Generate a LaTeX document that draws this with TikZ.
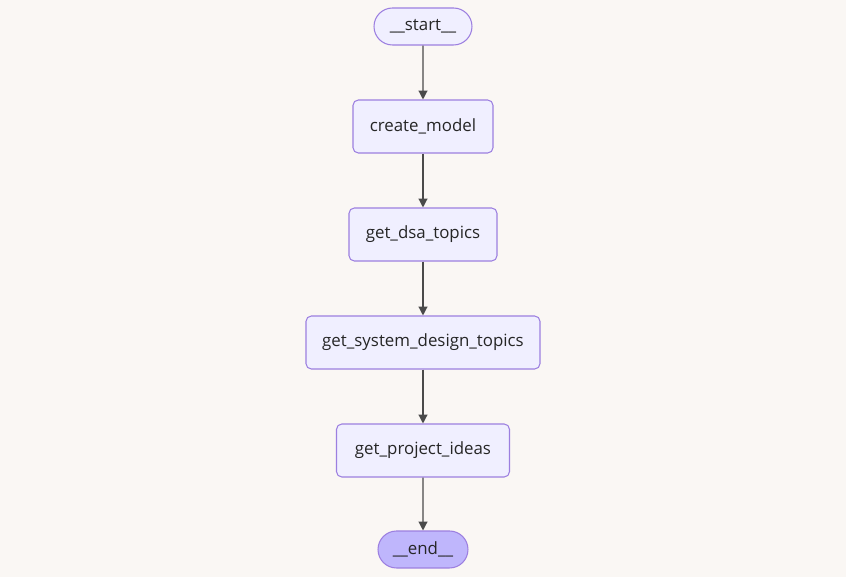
\documentclass[tikz,border=0pt]{standalone}
\usepackage{fontspec}
\setmainfont{Open Sans}
\usepackage{tikz}
\usetikzlibrary{shapes.misc, arrows.meta}

\definecolor{bgcol}{HTML}{FAF7F4}
\definecolor{nodefill}{HTML}{F0EFFF}
\definecolor{nodedraw}{HTML}{9C7FE0}
\definecolor{endfill}{HTML}{BFB6FC}
\definecolor{edgecol}{HTML}{4A4A4A}

\begin{document}
\begin{tikzpicture}[x=0.02cm, y=-0.02cm,
        stepnode/.style={rectangle, rounded corners=3pt, draw=nodedraw, fill=nodefill, line width=0.6pt,
            minimum height=1.06cm, inner sep=0pt, font=\fontsize{9.6pt}{11pt}\selectfont, text=black!85},
        term/.style={rounded rectangle, draw=nodedraw, fill=nodefill, line width=0.6pt,
            minimum height=0.74cm, inner sep=0pt, font=\fontsize{9.6pt}{11pt}\selectfont, text=black!85},
        arr/.style={-{Triangle[length=5pt,width=5pt]}, edgecol, line width=0.7pt}
    ]

    % ---- BACKGROUND ----
    \fill[bgcol] (0,0) rectangle (846,577);
    \useasboundingbox (0,0) rectangle (846,577);

    % ---- NODES ----
    \node[term, minimum width=1.96cm] (start) at (423, 26.5) {\_\_start\_\_};
    \node[stepnode, minimum width=2.80cm] (create) at (423, 126.5) {create\_model};
    \node[stepnode, minimum width=2.96cm] (dsa) at (423, 234.5) {get\_dsa\_topics};
    \node[stepnode, minimum width=4.68cm] (sysdes) at (423, 342.5) {get\_system\_design\_topics};
    \node[stepnode, minimum width=3.46cm] (ideas) at (423, 450.5) {get\_project\_ideas};
    \node[term, fill=endfill, minimum width=1.80cm] (end) at (423, 549.5) {\_\_end\_\_};

    % ---- EDGES ----
    \draw[arr] (start) -- (create);
    \draw[arr] (create) -- (dsa);
    \draw[arr] (dsa) -- (sysdes);
    \draw[arr] (sysdes) -- (ideas);
    \draw[arr] (ideas) -- (end);

\end{tikzpicture}
\end{document}
